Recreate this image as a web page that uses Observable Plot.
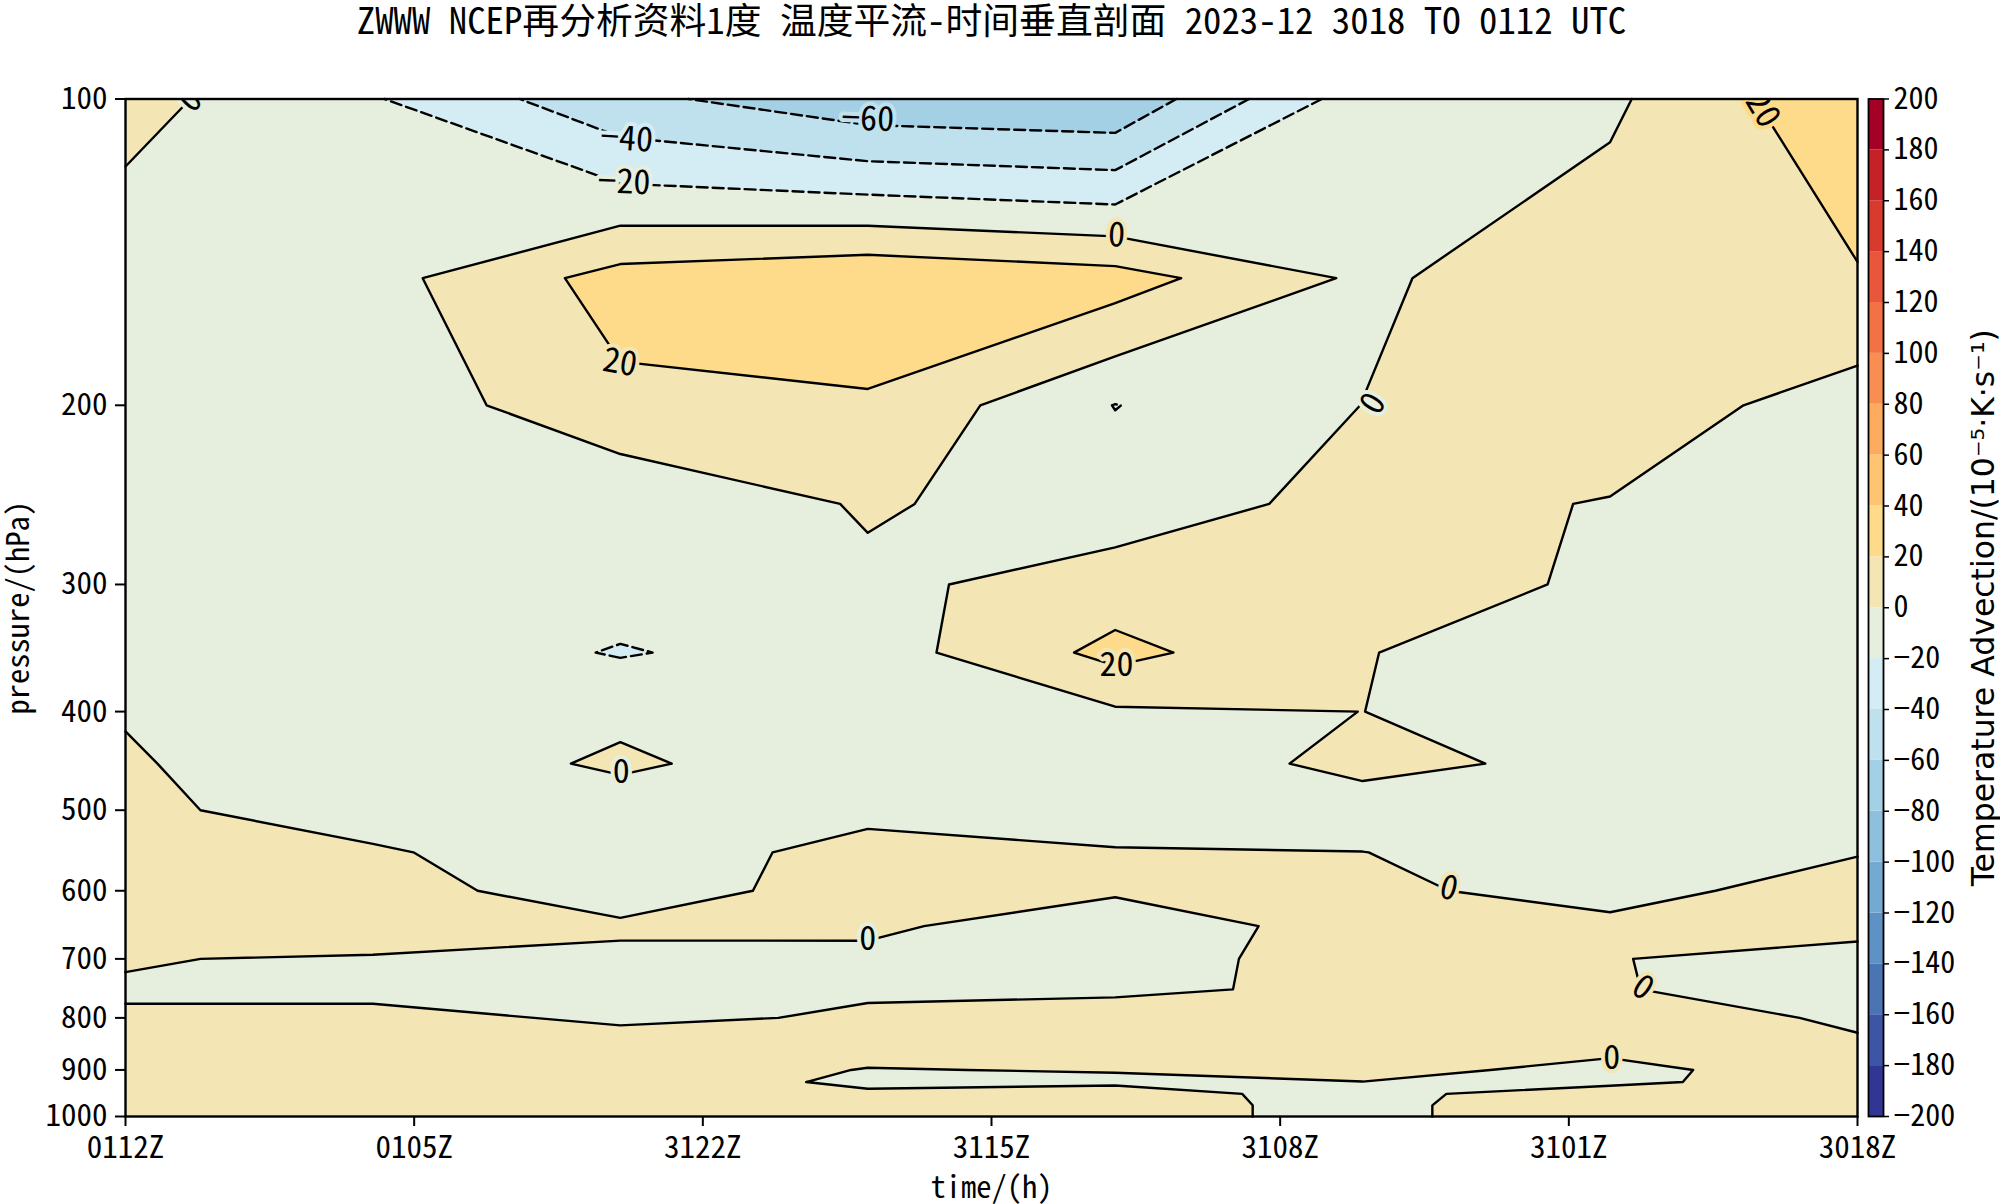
<!DOCTYPE html>
<html><head><meta charset="utf-8">
<script src="https://cdn.jsdelivr.net/npm/d3@7"></script>
<script src="https://cdn.jsdelivr.net/npm/@observablehq/plot@0.6"></script>
<style>
html,body{margin:0;padding:0;background:#fff;}
#wrap{position:relative;width:2000px;height:1204px;overflow:hidden;background:#fff;}
#wrap svg{position:absolute;top:0;}
g[aria-label="geo"] path{fill-rule:evenodd;}
</style></head><body><div id="wrap"></div>
<script>
// ---------------- data ----------------
const pressureLevels = [100,150,200,250,300,350,400,450,500,550,600,650,700,750,800,850,900,925,950,975,1000];
const timeHours = [0,6,12,18,24,30,36,42];           // hours before 0112Z
const timeNames = ["0112Z","0106Z","0100Z","3118Z","3112Z","3106Z","3100Z","3018Z"];
const tickHours = [0,7,14,21,28,35,42];
const tickLabels = ["0112Z","0105Z","3122Z","3115Z","3108Z","3101Z","3018Z"];
const pressureTicks = [100,200,300,400,500,600,700,800,900,1000];
const colorTicks = [-200,-180,-160,-140,-120,-100,-80,-60,-40,-20,0,20,40,60,80,100,120,140,160,180,200];

// temperature advection (1e-5 K/s) per time, ordered as pressureLevels (100 -> 1000 hPa)
const adv0112 = [6.5,-13.2,-8,-10,-9,-8,-0.93,1.6,6,9,10,7,1.09,-1.46,1.48,8,8,8,9,9,9];
const adv0106 = [-18.3,-7,-13,-12,-10,-6.5,-8,-10.8,-13.8,3.6,4.4,16.4,-2.5,-5.5,5.6,9,8,9,10,10,10];
const adv0100 = [-54.9,27.8,15.3,-17.5,-10.6,-21.5,-3.6,2.7,-9,-18.4,-6,1.9,-2.5,-5,-3,8,5.4,9.05,10,10,10];
const adv3118 = [-73.4,37.1,17.1,2.2,-4.3,-10,-8,-10.3,-8.7,11.5,5.2,3,-3.9,-1.5,1.7,4,-0.39,-3,2.3,6,6];
const adv3112 = [-76.8,28.5,-20.5,-9.4,8.8,26,-2.5,-14.3,-10.4,1.5,2.2,-10.2,-12,-4,10.6,6,0.58,-2,4.85,5,5];
const adv3106 = [-8.8,-3.4,0.2,5.7,8,0.5,0.05,6,-10.6,0.2,6,7.4,12,4.4,8,7,4.8,-0.2,-4.6,-4,-4];
const adv3100 = [-3.5,13.5,11,-1,-2.7,-7,-5,-6.1,-9,-8,-11.2,7.5,0.73,1.13,13.1,5,-4.5,-4,9,10.2,10.2];
const adv3018 = [36.5,18,-9.4,-10,-8,-7,-6,-4,-5,-1.8,15.1,6,-7.1,-8,-4,3.3,8.9,9.6,10,10,10];

// contour labels
const labelText  = ["0","−40","−60","−20","20","0","20","0","20","0","0","0","0","0"];
const labelHour  = [1.58,12.15,18.0,12.09,11.99,24.03,39.7,30.26,24.03,12.02,18.0,32.09,36.79,36.04];
const labelPres  = [100.3,109.5,104.7,120.8,181.6,136.2,102.5,199.2,359.8,458.3,668.9,596.8,747.2,876.3];
const labelAngle = [-46,4,2,2,10,3,59,-59,0,0,0,15,35,0];
const labelUnder = [-10,-30,-50,-10,10,10,30,-10,10,-10,-10,10,10,10];

const titleText = "ZWWW NCEP再分析资料1度 温度平流-时间垂直剖面 2023-12 3018 TO 0112 UTC";
const xLabel = "time/(h)";
const yLabel = "pressure/(hPa)";
const cLabel = "Temperature Advection/(10⁻⁵·K·s⁻¹)";

// ---------------- styles ----------------
const bandColors = ["#313695","#3d55a4","#4a74b4","#5e92c4","#74aad2","#8ebfdd","#a4d0e5","#bfe1ee","#d4ecf4","#e6eedd",
                    "#f3e6b4","#fedb8a","#fdc572","#fcab5f","#f98e52","#f47145","#e8563b","#d83a2e","#c42128","#a50026"];
const hei = '"Noto Sans Mono CJK SC","Noto Sans CJK SC","DejaVu Sans Mono",monospace';
const colorScale = {type: "threshold", domain: colorTicks.slice(1, -1), range: bandColors};

// ---------------- contouring ----------------
const columns = [adv0112, adv0106, adv0100, adv3118, adv3112, adv3106, adv3100, adv3018];
const nx = timeHours.length, ny = pressureLevels.length;
const grid = new Array(nx * ny);
for (let j = 0; j < ny; j++) for (let i = 0; i < nx; i++) grid[j * nx + i] = columns[i][j];

function gridToData(fi, fj) {
  const i0 = Math.min(nx - 2, Math.floor(fi)), ti = fi - i0;
  const j0 = Math.min(ny - 2, Math.floor(fj)), tj = fj - j0;
  return [timeHours[i0] + ti * (timeHours[i0 + 1] - timeHours[i0]),
          pressureLevels[j0] + tj * (pressureLevels[j0 + 1] - pressureLevels[j0])];
}
function clampPt([gx, gy]) {
  return [Math.max(0, Math.min(nx - 1, gx - 0.5)), Math.max(0, Math.min(ny - 1, gy - 0.5))];
}
const thresholds = colorTicks.slice(0, -1);
const contours = d3.contours().size([nx, ny]).thresholds(thresholds)(grid);

const features = contours.filter(c => c.coordinates.length).map(c => ({
  type: "Feature",
  properties: {value: c.value + 10},
  geometry: {type: "MultiPolygon",
    coordinates: c.coordinates.map(poly => poly.map(ring => ring.map(pt => gridToData(...clampPt(pt)))))}
}));

const eps = 1e-9;
function sameBorder(a, b) {
  return (a.fi <= eps && b.fi <= eps) || (a.fi >= nx - 1 - eps && b.fi >= nx - 1 - eps) ||
         (a.fj <= eps && b.fj <= eps) || (a.fj >= ny - 1 - eps && b.fj >= ny - 1 - eps);
}
const lineRows = [];
let lineId = 0;
for (const c of contours) {
  for (const poly of c.coordinates) for (const ring of poly) {
    const pts = ring.map(pt => { const [fi, fj] = clampPt(pt); const [h, p] = gridToData(fi, fj); return {fi, fj, h, p}; });
    const n = pts.length - 1;
    if (n < 2) continue;
    const keep = d3.range(n).map(k => !sameBorder(pts[k], pts[k + 1]));
    const start = keep.indexOf(false);
    const runs = [];
    if (start < 0) runs.push(pts);
    else {
      let cur = null;
      for (let m = 1; m <= n; m++) {
        const k = (start + m) % n;
        if (keep[k]) { if (!cur) cur = [pts[k]]; cur.push(pts[k + 1]); }
        else if (cur) { runs.push(cur); cur = null; }
      }
      if (cur) runs.push(cur);
    }
    for (const run of runs) { const id = lineId++; for (const q of run) lineRows.push({id, level: c.value, h: q.h, p: q.p}); }
  }
}

const labels = labelText.map((t, k) => ({t, h: labelHour[k], p: labelPres[k], a: labelAngle[k], u: labelUnder[k]}));

// ---------------- main chart ----------------
const main = Plot.plot({
  width: 2000, height: 1204,
  marginLeft: 125, marginRight: 143, marginTop: 98.5, marginBottom: 88,
  style: {fontFamily: hei, fontSize: "31px", background: "transparent", overflow: "visible"},
  x: {domain: [0, 42]},
  y: {type: "log", domain: [1000, 100]},
  color: colorScale,
  marks: [
    Plot.geo(features, {fill: d => d.properties.value, stroke: "none"}),
    Plot.line(lineRows.filter(d => d.level < 0), {x: "h", y: "p", z: "id", stroke: "black", strokeWidth: 2.4, strokeDasharray: "11,5"}),
    Plot.line(lineRows.filter(d => d.level >= 0), {x: "h", y: "p", z: "id", stroke: "black", strokeWidth: 2.4}),
    Plot.text(labels, {x: "h", y: "p", text: "t", rotate: "a", stroke: "u", fill: "black", strokeWidth: 8,
      strokeLinejoin: "round", paintOrder: "stroke", fontSize: 34, fontFamily: hei, clip: true}),
    Plot.frame({stroke: "black", strokeWidth: 2.4}),
    Plot.axisY({ticks: pressureTicks, tickFormat: d => String(d), tickSize: 10, tickPadding: 8, strokeWidth: 2, fontSize: 31, label: null}),
    Plot.axisX({ticks: tickHours, tickFormat: d => tickLabels[tickHours.indexOf(d)], tickSize: 10, tickPadding: 9, strokeWidth: 2, fontSize: 31, label: null}),
    Plot.text([titleText], {text: d => d, frameAnchor: "top", dy: -76.5, lineAnchor: "middle", textAnchor: "middle", fontSize: 36.8, fontFamily: hei}),
    Plot.text([xLabel], {text: d => d, frameAnchor: "bottom", dy: 72, lineAnchor: "middle", textAnchor: "middle", fontSize: 30.5, fontFamily: hei}),
    Plot.text([yLabel], {text: d => d, frameAnchor: "left", dx: -106, rotate: -90, lineAnchor: "middle", textAnchor: "middle", fontSize: 30.5, fontFamily: hei})
  ]
});
main.style.left = "0px";

// ---------------- colorbar ----------------
const bands = colorTicks.slice(0, -1).map(lo => ({lo, hi: lo + 20, mid: lo + 10}));
const cbar = Plot.plot({
  width: 140, height: 1204,
  marginLeft: 8, marginRight: 117, marginTop: 98.5, marginBottom: 88,
  style: {fontFamily: hei, fontSize: "30px", background: "transparent", overflow: "visible"},
  x: {domain: [0, 1], axis: null},
  y: {domain: [-200, 200], axis: null},
  color: colorScale,
  marks: [
    Plot.rect(bands, {x1: 0, x2: 1, y1: "lo", y2: "hi", fill: "mid"}),
    Plot.frame({stroke: "black", strokeWidth: 1.8}),
    Plot.axisY({anchor: "right", ticks: colorTicks, tickFormat: d => d < 0 ? "−" + Math.abs(d) : String(d),
      tickSize: 5, tickPadding: 5, strokeWidth: 1.5, fontSize: 30, label: null}),
    Plot.text([cLabel], {text: d => d, frameAnchor: "right", dx: 100, rotate: -90, lineAnchor: "middle", textAnchor: "middle",
      fontSize: 31.5, fontFamily: '"DejaVu Sans",sans-serif'})
  ]
});
cbar.style.left = "1860px";

const wrap = document.getElementById("wrap");
wrap.appendChild(main);
wrap.appendChild(cbar);
</script></body></html>
